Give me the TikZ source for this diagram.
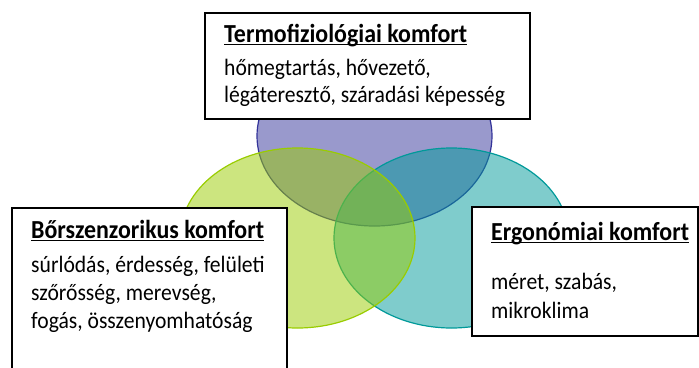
\documentclass[tikz,border=0pt]{standalone}
\usepackage{fontspec}
\setmainfont{Carlito}[FakeStretch=0.92]
\usetikzlibrary{calc}

\definecolor{termo}{RGB}{51,51,153}
\definecolor{borsz}{RGB}{153,204,0}
\definecolor{ergon}{RGB}{0,153,153}

\newcommand\ulbold[1]{\setbox0\hbox{\bfseries #1}\rlap{\rule[-3pt]{\wd0}{1.5pt}}\box0}

\tikzset{
	venn/.style={line width=1.2pt, fill opacity=0.5},
	keret/.style={draw=black, fill=white, line width=1.4pt},
	szoveg/.style={anchor=base west, inner sep=0pt, font=\fontsize{23.5}{27}\selectfont},
	cim/.style={szoveg, font=\fontsize{26}{30}\selectfont}
}

\begin{document}
\begin{tikzpicture}[x=1pt,y=-1pt]
		\useasboundingbox (0,0) rectangle (699,367);
		\clip (0,0) rectangle (699,367);
		% korok
		\draw[venn, draw=termo, fill=termo] (374.5,136) ellipse [x radius=117.5pt, y radius=90pt];
		\draw[venn, draw=ergon, fill=ergon] (451.5,238) ellipse [x radius=117.5pt, y radius=90pt];
		\draw[venn, draw=borsz, fill=borsz] (297.5,238) ellipse [x radius=117.5pt, y radius=90pt];
		% dobozok
		\draw[keret] (205,13) rectangle (530,119);
		\draw[keret] (12,208) rectangle (287,390);
		\draw[keret] (472,207) rectangle (698,336);
		% szovegek
		\node[cim] (termo) at (224,42) {\ulbold{Termofiziológiai komfort}};
		\node[szoveg] (termo1) at (224,75) {hőmegtartás, hővezető,};
		\node[szoveg] (termo2) at (224,102) {légáteresztő, száradási képesség};
		\node[cim] (borsz) at (31,238) {\ulbold{Bőrszenzorikus komfort}};
		\node[szoveg] (borsz1) at (31,272) {súrlódás, érdesség, felületi};
		\node[szoveg] (borsz2) at (31,300) {szőrősség, merevség,};
		\node[szoveg] (borsz3) at (31,328) {fogás, összenyomhatóság};
		\node[cim] (ergon) at (491,240) {\ulbold{Ergonómiai komfort}};
		\node[szoveg] (ergon1) at (491,289) {méret, szabás,};
		\node[szoveg] (ergon2) at (491,318) {mikroklima};
\end{tikzpicture}
\end{document}
